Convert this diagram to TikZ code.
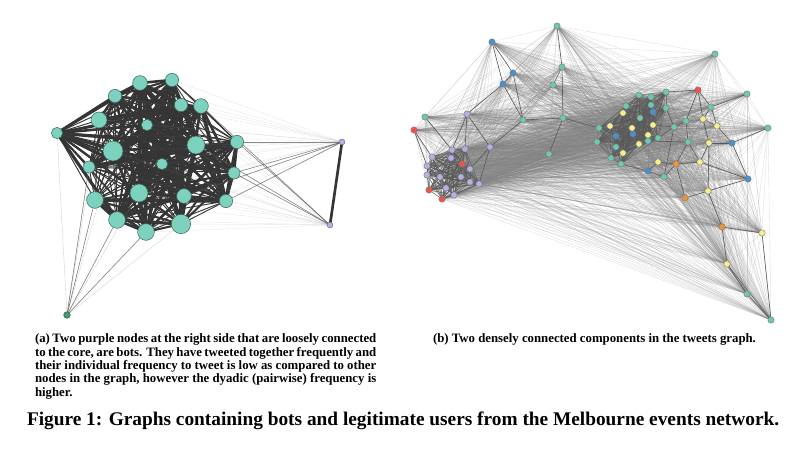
\documentclass[tikz,border=0pt]{standalone}
\usepackage{fontspec}
\setmainfont{Liberation Serif}
\usetikzlibrary{backgrounds}
\definecolor{mint}{HTML}{7CD2BF}
\definecolor{tl}{HTML}{6CC9B0}
\definecolor{bl}{HTML}{4A90CF}
\definecolor{rd}{HTML}{EE5548}
\definecolor{pu}{HTML}{B4B0E2}
\definecolor{yl}{HTML}{F4F08E}
\definecolor{og}{HTML}{F39233}
\definecolor{dg}{HTML}{3F9E70}
\definecolor{edge}{HTML}{353535}

\begin{document}
\begin{tikzpicture}[x=0.75pt,y=-0.75pt,semithick]
\tikzstyle{every node}=[inner sep=0pt,outer sep=0pt]
\tikzstyle{big}=[circle,draw=mint!50!black,fill=mint,line width=0.4pt]
\tikzstyle{dot}=[circle,draw=black!55,line width=0.3pt,minimum size=4.8pt]
\tikzstyle{core}=[draw=edge,line cap=round]
\tikzstyle{thin}=[draw=gray,line width=0.3pt,draw opacity=0.18]
\tikzstyle{mid}=[draw=black!70,line width=0.45pt,draw opacity=0.6]
\tikzstyle{tree}=[draw=black!65,line width=0.45pt]
\tikzstyle{faint}=[draw=gray,line width=0.3pt,draw opacity=0.24]
\tikzstyle{capt}=[font=\fontsize{9.6}{10}\selectfont\bfseries]
\useasboundingbox (0,0) rectangle (800,452);

\foreach \x/\y/\d [count=\k] in {140/83/11,172/80/10,115/96/10,181/105/10,201/106/11,
  99/120/12,147/125/8.5,57/133/8.5,113/151/15,196/145/13.5,237/142/10,89/167/9,
  162/164/8.5,234/173/9,139/193/13.5,184/196/11,95/200/12.5,226/201/10,
  117/220/12.5,146/232/12.5,181/224/14.5}
  \node[big,minimum size=\d pt] (a\k) at (\x,\y) {};
\node[dot,fill=pu,draw=pu!50!black,minimum size=4.4pt] (a22) at (342,142) {};
\node[dot,fill=pu,draw=pu!50!black,minimum size=4.4pt] (a23) at (330,225) {};
\node[dot,fill=dg,draw=dg!50!black,minimum size=5pt] (a24) at (67,315) {};

\foreach \x/\y/\c [count=\k] in {557/26/tl,492/42/bl,715/54/tl,562/67/tl,513/73/bl,
  503/84/bl,553/85/tl,425/117/tl,467/114/pu,523/120/tl,563/118/tl,414/130/rd,
  490/147/pu,549/154/tl,
  452/150/pu,465/149/pu,432/157/pu,451/158/pu,427/166/pu,470/169/pu,427/175/pu,
  440/177/pu,461/177/pu,470/182/pu,479/184/pu,446/188/pu,454/195/pu,462/164/rd,
  429/190/rd,442/199/rd,
  666/92/tl,639/95/tl,651/97/tl,626/106/tl,651/105/tl,666/108/tl,640/118/tl,
  599/128/tl,597/142/tl,616/147/tl,611/158/tl,621/164/tl,653/112/bl,616/136/bl,
  633/134/bl,623/113/yl,610/126/yl,632/128/yl,653/125/yl,648/135/yl,639/144/yl,
  623/153/yl,658/138/tl,648/141/tl,
  698/90/rd,711/107/tl,686/121/tl,674/127/tl,688/142/tl,703/119/yl,717/126/yl,
  709/143/yl,700/162/yl,658/162/yl,676/164/og,648/171/bl,664/177/tl,732/143/bl,
  747/94/tl,768/128/tl,748/179/bl,708/191/yl,685/198/og,722/227/og,762/233/yl,
  727/264/yl,747/294/tl,771/320/tl}
  \node[dot,fill=\c] (b\k) at (\x,\y) {};

\begin{pgfonlayer}{background}
\foreach \i in {1,...,20}{
  \pgfmathtruncatemacro\ii{\i+1}
  \foreach \j in {\ii,...,21}{
    \pgfmathsetmacro\w{0.7+0.42*mod(\i*\j+\i,6)}
    \draw[core,line width=\w pt] (a\i) -- (a\j);
  }
}
\foreach \i in {1,...,21}{
  \draw[thin] (a\i) -- (a22);
  \draw[thin] (a\i) -- (a23);
}
\foreach \i in {6,8,9,12,15,17,19,20,21} \draw[thin,draw opacity=0.35] (a\i) -- (a24);
\foreach \i/\j in {11/22,14/22,16/22,18/22,5/23,10/23,11/23,14/23,17/24,19/24,20/24,12/24}
  \draw[mid] (a\i) -- (a\j);
\draw[core,line width=2pt] (a22) -- (a23);

\foreach \i in {1,...,77}{
  \pgfmathtruncatemacro\ii{\i+1}
  \foreach \j in {\ii,...,78} \draw[faint] (b\i) -- (b\j);
}
\foreach \i in {15,...,29}{
  \pgfmathtruncatemacro\ii{\i+1}
  \foreach \j in {\ii,...,30} \draw[tree,draw opacity=0.85,line width=0.4pt] (b\i) -- (b\j);
}
\foreach \i in {31,...,53}{
  \pgfmathtruncatemacro\ii{\i+1}
  \foreach \j in {\ii,...,54} \draw[tree,draw opacity=0.65,line width=0.4pt] (b\i) -- (b\j);
}
\foreach \i/\j in {2/5,2/6,5/6,5/10,6/10,1/4,4/7,4/11,10/11,11/14,11/38,10/13,9/13,
  9/6,8/15,9/15,9/16,12/17,12/19,13/20,13/25,
  55/31,55/56,55/57,55/60,56/60,56/61,57/58,57/59,58/36,58/53,58/49,59/54,
  60/61,60/62,62/68,62/63,62/72,63/65,63/71,63/59,65/64,65/73,65/67,65/59,
  64/66,66/67,42/66,68/61,68/70,68/71,71/72,72/73,72/74,74/75,74/76,76/77,
  77/78,75/78,76/78,69/56,67/58}
  \draw[tree] (b\i) -- (b\j);
\end{pgfonlayer}

\node[capt,anchor=north west,text width=256pt,align=justify] (capa) at (35,334)
  {(a) Two purple nodes at the right side that are loosely connected\linebreak
  to the core, are bots. They have tweeted together frequently and\linebreak
  their individual frequency to tweet is low as compared to other\linebreak
  nodes in the graph, however the dyadic (pairwise) frequency is\linebreak
  higher.};
\node[capt,anchor=west] (capb) at (433,339)
  {(b) Two densely connected components in the tweets graph.};
\node[anchor=west,font=\fontsize{14.5}{16}\selectfont\bfseries] (fig) at (27,421)
  {Figure 1: Graphs containing bots and legitimate users from the Melbourne events network.};
\end{tikzpicture}
\end{document}
